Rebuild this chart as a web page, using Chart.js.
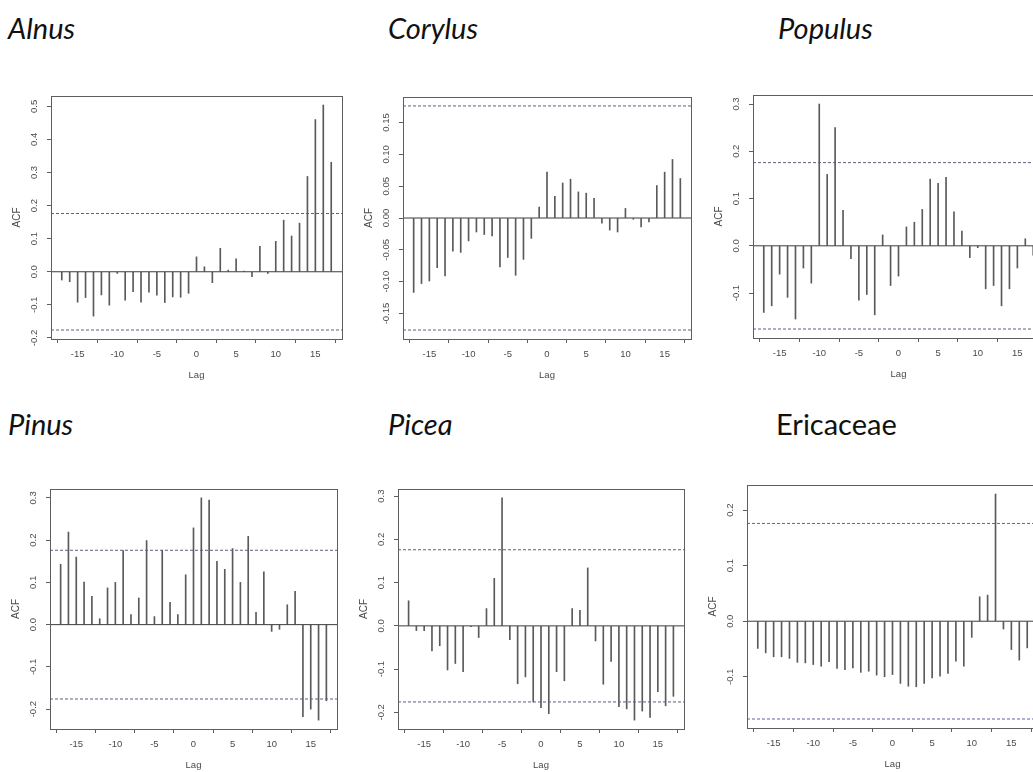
<!DOCTYPE html>
<html>
<head>
<meta charset="utf-8">
<script src="https://cdn.jsdelivr.net/npm/chart.js@4.4.1/dist/chart.umd.min.js"></script>
<style>
  html, body { margin: 0; padding: 0; background: #fff; }
  body { width: 1033px; height: 772px; overflow: hidden; position: relative; font-family: Lato, "Open Sans", sans-serif; }
  .title { position: absolute; font-size: 29px; line-height: 29px; color: #111; white-space: nowrap; }
  .title.it { font-style: italic; }
  canvas { position: absolute; }
</style>
</head>
<body>
<div class="title it" style="left:8px;top:13px">Alnus</div>
<div class="title it" style="left:388px;top:13px">Corylus</div>
<div class="title it" style="left:778px;top:13px">Populus</div>
<div class="title it" style="left:8px;top:409px">Pinus</div>
<div class="title it" style="left:388px;top:409px">Picea</div>
<div class="title" style="left:776px;top:409px">Ericaceae</div>

<canvas id="c-alnus"></canvas>
<canvas id="c-corylus"></canvas>
<canvas id="c-populus"></canvas>
<canvas id="c-pinus"></canvas>
<canvas id="c-picea"></canvas>
<canvas id="c-ericaceae"></canvas>

<script>
/* cross-correlation panels, lags -17..17 */

const lags = [-17,-16,-15,-14,-13,-12,-11,-10,-9,-8,-7,-6,-5,-4,-3,-2,-1,0,1,2,3,4,5,6,7,8,9,10,11,12,13,14,15,16,17];
const xTicks = ['-15','-10','-5','0','5','10','15'];
const ci = 0.176;

const alnusAcf = [-0.025,-0.030,-0.092,-0.078,-0.134,-0.070,-0.101,-0.005,-0.086,-0.060,-0.092,-0.062,-0.071,-0.093,-0.076,-0.077,-0.065,
  0.045,0.015,-0.033,0.071,0.005,0.039,0.002,-0.015,0.077,-0.005,0.092,0.156,0.108,0.147,0.288,0.460,0.504,0.331];
const corylusAcf = [-0.117,-0.103,-0.099,-0.078,-0.091,-0.052,-0.054,-0.036,-0.022,-0.026,-0.028,-0.077,-0.062,-0.090,-0.065,-0.032,0.017,
  0.072,0.034,0.055,0.061,0.041,0.039,0.031,-0.008,-0.019,-0.022,0.015,-0.002,-0.014,-0.006,0.051,0.072,0.092,0.062];
const populusAcf = [-0.141,-0.127,-0.060,-0.109,-0.155,-0.047,-0.079,0.300,0.151,0.250,0.075,-0.027,-0.115,-0.103,-0.146,0.023,-0.084,
  -0.064,0.040,0.050,0.077,0.141,0.132,0.145,0.072,0.031,-0.025,-0.004,-0.091,-0.084,-0.127,-0.091,-0.047,0.015,-0.020];
const pinusAcf = [0.143,0.219,0.160,0.101,0.067,0.014,0.087,0.100,0.175,0.024,0.063,0.199,0.019,0.176,0.053,0.024,0.118,
  0.229,0.300,0.295,0.150,0.131,0.180,0.100,0.209,0.029,0.125,-0.016,-0.011,0.047,0.079,-0.218,-0.200,-0.226,-0.180];
const piceaAcf = [0.058,-0.011,-0.011,-0.058,-0.046,-0.102,-0.087,-0.106,-0.002,-0.027,0.040,0.110,0.296,-0.032,-0.134,-0.118,-0.176,
  -0.189,-0.203,-0.106,-0.127,0.040,0.036,0.134,-0.035,-0.135,-0.082,-0.187,-0.192,-0.218,-0.197,-0.212,-0.152,-0.185,-0.163];
const ericaceaeAcf = [-0.049,-0.057,-0.064,-0.064,-0.067,-0.074,-0.075,-0.078,-0.081,-0.073,-0.085,-0.087,-0.084,-0.092,-0.090,-0.097,-0.100,
  -0.096,-0.112,-0.117,-0.118,-0.112,-0.102,-0.099,-0.094,-0.072,-0.081,-0.029,0.044,0.047,0.229,-0.014,-0.051,-0.070,-0.048];

const alnusYTicks = ['-0.2','-0.1','0.0','0.1','0.2','0.3','0.4','0.5'];
const corylusYTicks = ['-0.15','-0.10','-0.05','0.00','0.05','0.10','0.15'];
const populusYTicks = ['-0.1','0.0','0.1','0.2','0.3'];
const pinusYTicks = ['-0.2','-0.1','0.0','0.1','0.2','0.3'];
const piceaYTicks = ['-0.2','-0.1','0.0','0.1','0.2','0.3'];
const ericaceaeYTicks = ['-0.1','0.0','0.1','0.2'];

// plot box (left, top, width, height) of each panel on the page
const panels = [
  { id:'c-alnus',     acf:alnusAcf,     yTicks:alnusYTicks,     box:[51, 96, 291, 243] },
  { id:'c-corylus',   acf:corylusAcf,   yTicks:corylusYTicks,   box:[403, 97, 288, 242] },
  { id:'c-populus',   acf:populusAcf,   yTicks:populusYTicks,   box:[753, 95, 291, 243] },
  { id:'c-pinus',     acf:pinusAcf,     yTicks:pinusYTicks,     box:[50, 489, 287, 240] },
  { id:'c-picea',     acf:piceaAcf,     yTicks:piceaYTicks,     box:[398, 489, 286, 240] },
  { id:'c-ericaceae', acf:ericaceaeAcf, yTicks:ericaceaeYTicks, box:[747, 485, 291, 243], ciColor:'#5d63a6' },
];

const PADL = 51, PADT = 8, PADR = 8, PADB = 46;
const AXIS_FONT = '9.5px "Liberation Sans", Arial, sans-serif';
const TEXT_COL = '#4a4a4a';

// R-style frame, rotated y labels and axis titles
const rFrame = {
  id: 'rFrame',
  afterDraw(chart) {
    const { ctx, chartArea: a, scales } = chart;
    const labels = chart.options.plugins.rFrame.yLabels;
    ctx.save();
    ctx.strokeStyle = '#5e5e5e';
    ctx.lineWidth = 1;
    ctx.strokeRect(a.left + 0.5, a.top + 0.5, a.right - a.left, a.bottom - a.top);

    ctx.fillStyle = TEXT_COL;
    ctx.font = AXIS_FONT;
    ctx.textAlign = 'center';
    ctx.textBaseline = 'middle';
    labels.forEach(l => {
      const y = scales.y.getPixelForValue(parseFloat(l));
      ctx.save();
      ctx.translate(a.left - 17, y);
      ctx.rotate(-Math.PI / 2);
      ctx.fillText(l, 0, 0);
      ctx.restore();
    });

    ctx.save();
    ctx.font = '10px "Liberation Sans", Arial, sans-serif';
    ctx.translate(a.left - 34, (a.top + a.bottom) / 2);
    ctx.rotate(-Math.PI / 2);
    ctx.fillText('ACF', 0, 0);
    ctx.restore();

    ctx.fillText('Lag', (a.left + a.right) / 2, a.bottom + 36);
    ctx.restore();
  }
};

function drawPanel(p) {
  const [bx, by, bw, bh] = p.box;
  const el = document.getElementById(p.id);
  const w = bw + PADL + PADR, h = bh + PADT + PADB;
  el.style.left = (bx - PADL) + 'px';
  el.style.top = (by - PADT) + 'px';
  el.style.width = w + 'px';
  el.style.height = h + 'px';
  el.width = w; el.height = h;

  // axis limits the way R pads them: 4% of the data range on each side
  const xr = 17 + 0.04 * 34;
  const lo = Math.min(Math.min(...p.acf), -ci);
  const hi = Math.max(Math.max(...p.acf), ci);
  const pad = 0.04 * (hi - lo);
  const ciCol = p.ciColor || '#5c5f80';

  new Chart(el, {
    type: 'bar',
    data: {
      datasets: [
        {
          type: 'bar',
          data: lags.map((l, i) => ({ x: l, y: p.acf[i] })),
          backgroundColor: '#5a5a5a',
          barThickness: 1,
          borderWidth: 0,
          order: 2,
        },
        {
          type: 'line',
          data: [{ x: -xr, y: 0 }, { x: xr, y: 0 }],
          borderColor: '#3c3c3c', borderWidth: 1, pointRadius: 0, order: 1,
        },
        {
          type: 'line',
          data: [{ x: -xr, y: ci }, { x: xr, y: ci }],
          borderColor: ciCol, borderWidth: 1, borderDash: [3, 2], pointRadius: 0, order: 1,
        },
        {
          type: 'line',
          data: [{ x: -xr, y: -ci }, { x: xr, y: -ci }],
          borderColor: ciCol, borderWidth: 1, borderDash: [3, 2], pointRadius: 0, order: 1,
        },
      ]
    },
    options: {
      responsive: false,
      animation: false,
      events: [],
      layout: { padding: { left: 0, top: PADT, right: PADR, bottom: 0 } },
      plugins: {
        legend: { display: false },
        tooltip: { enabled: false },
        rFrame: { yLabels: p.yTicks },
      },
      scales: {
        x: {
          type: 'linear', min: -xr, max: xr, offset: false,
          afterBuildTicks: s => { s.ticks = xTicks.map(v => ({ value: parseFloat(v) })); },
          afterFit: s => { s.height = PADB; },
          ticks: {
            color: TEXT_COL, font: { family: '"Liberation Sans", Arial, sans-serif', size: 9.5 },
            padding: 6, maxRotation: 0, autoSkip: false,
            callback: v => String(v),
          },
          grid: { drawOnChartArea: false, tickLength: 4, color: '#5e5e5e' },
          border: { display: false },
        },
        y: {
          type: 'linear', min: lo - pad, max: hi + pad,
          afterBuildTicks: s => { s.ticks = p.yTicks.map(v => ({ value: parseFloat(v) })); },
          afterFit: s => { s.width = PADL; },
          ticks: { display: false },
          grid: { drawOnChartArea: false, tickLength: 4, color: '#5e5e5e' },
          border: { display: false },
        },
      },
    },
    plugins: [rFrame],
  });
}

panels.forEach(drawPanel);
</script>
</body>
</html>
